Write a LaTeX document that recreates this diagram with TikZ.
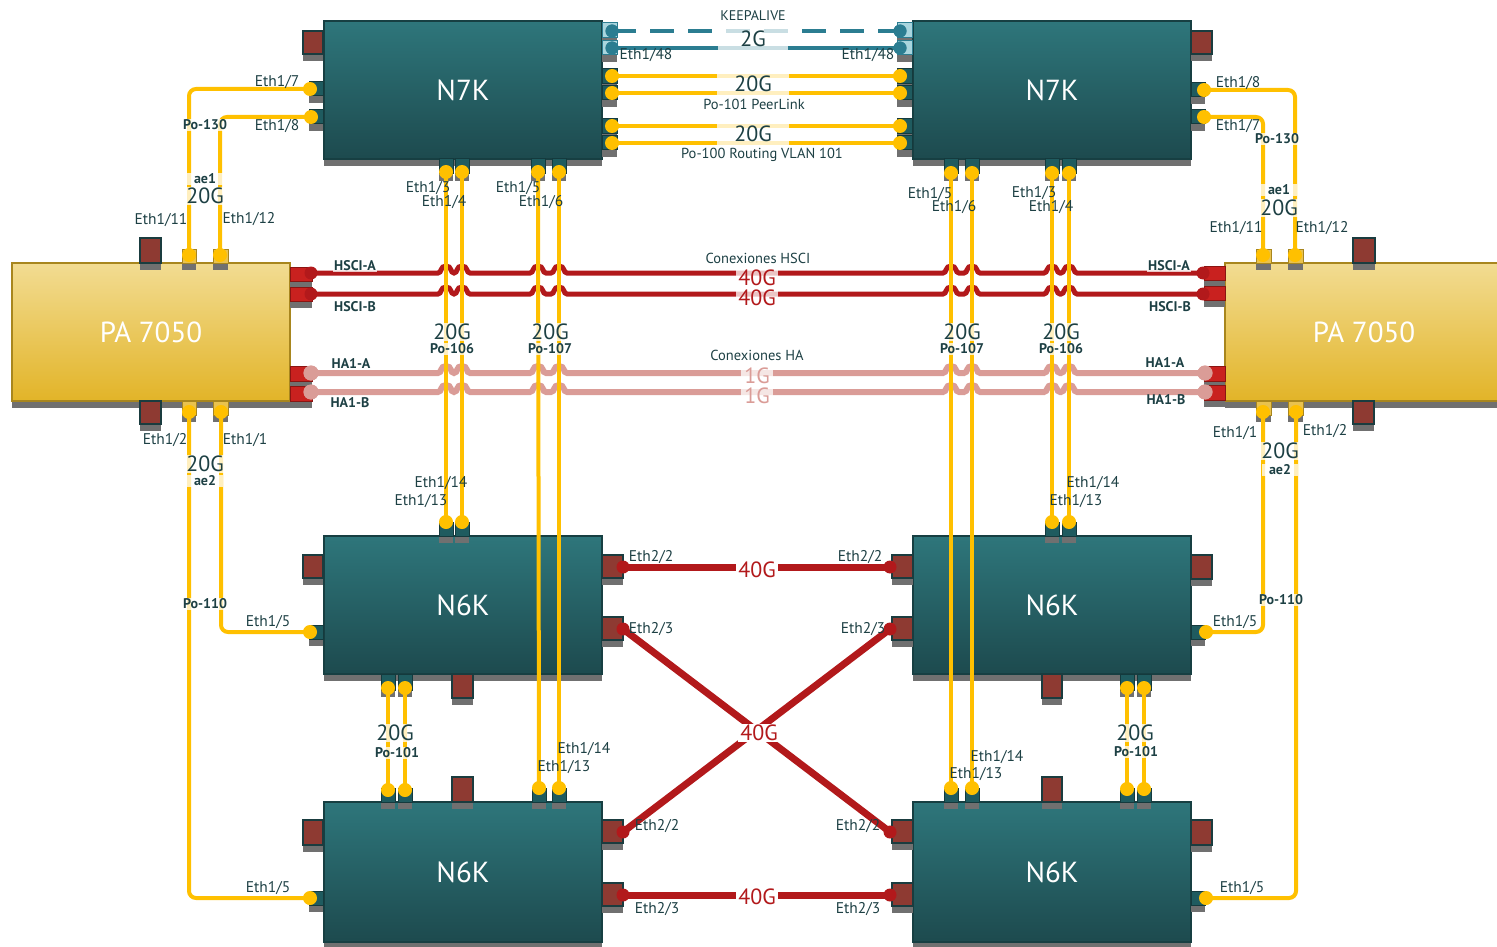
\documentclass[tikz,border=0pt]{standalone}
\usepackage{fontspec}
\setmainfont{PT Sans}
\definecolor{yel}{HTML}{FFC000}
\definecolor{hred}{HTML}{B2191B}
\definecolor{hpink}{HTML}{DA9C97}
\definecolor{kteal}{HTML}{2B7D91}
\definecolor{txtc}{HTML}{1D4044}
\definecolor{shc}{HTML}{707070}
\newcommand\myport[5]{\fill[shc] (#2,#5) rectangle (#4,#5+7);\draw[#1] (#2,#3) rectangle (#4,#5);}
\newcommand\hopline[3]{% style, start, end ; y given as #4? (unused)
}
\begin{document}
\begin{tikzpicture}[x=1pt,y=-1pt,
  dev/.style={rectangle, draw=#1!50!black, line width=1.5pt, text=white, font=\fontsize{29}{31}\selectfont},
  nx/.style={dev=teal, draw={rgb,255:red,23;green,63;blue,66}, top color={rgb,255:red,46;green,118;blue,123}, bottom color={rgb,255:red,29;green,74;blue,78}, minimum width=278pt},
  pa/.style={dev=yellow, draw={rgb,255:red,168;green,134;blue,30}, top color={rgb,255:red,242;green,220;blue,146}, bottom color={rgb,255:red,226;green,180;blue,40}, minimum width=278pt, minimum height=138pt},
  tport/.style={fill={rgb,255:red,31;green,91;blue,95}, draw={rgb,255:red,20;green,58;blue,61}, line width=1pt},
  rport/.style={fill={rgb,255:red,142;green,58;blue,50}, draw={rgb,255:red,26;green,60;blue,63}, line width=1.2pt},
  bport/.style={fill={rgb,255:red,169;green,213;blue,222}, draw=kteal, line width=1pt},
  yport/.style={fill={rgb,255:red,233;green,194;blue,78}, draw={rgb,255:red,168;green,134;blue,30}, line width=1pt},
  hport/.style={fill={rgb,255:red,201;green,33;blue,31}, draw={rgb,255:red,138;green,21;blue,18}, line width=1pt},
  yd/.style={circle, fill=yel, inner sep=0pt, minimum size=13pt},
  td/.style={circle, fill=kteal, inner sep=0pt, minimum size=13pt},
  rd/.style={circle, fill=hred, inner sep=0pt, minimum size=13pt},
  pd/.style={circle, fill=hpink, inner sep=0pt, minimum size=15pt},
  ylink/.style={draw=yel, line width=4pt, rounded corners=7pt},
  klink/.style={draw=kteal, line width=4pt},
  hsci/.style={draw=hred, line width=5pt},
  halink/.style={draw=hpink, line width=6pt},
  rlink/.style={draw=hred, line width=7pt},
  lbl/.style={font=\fontsize{15.5}{17}\selectfont, text=txtc, inner sep=1pt},
  bl/.style={font=\bfseries\fontsize{14}{16}\selectfont, text=txtc, inner sep=1pt},
  big/.style={font=\fontsize{22}{24}\selectfont, text=txtc, inner sep=1pt},
  wbg/.style={fill=white, fill opacity=0.75, text opacity=1}
]
\useasboundingbox (0,0) rectangle (1497,947);
% ---------- device shadows and boxes
\foreach \a/\b/\c in {324/602/159, 913/1191/159, 12/290/401, 1225/1503/401, 324/602/674, 913/1191/674, 324/602/942, 913/1191/942}
  \fill[shc] (\a,\c) rectangle (\b,\c+7);
\node[nx, minimum height=138pt] (n7a) at (463,90) {N7K};
\node[nx, minimum height=138pt] (n7b) at (1052,90) {N7K};
\node[pa] (paL) at (151,332) {PA 7050};
\node[pa] (paR) at (1364,332) {PA 7050};
\node[nx, minimum height=138pt] (n6a) at (463,605) {N6K};
\node[nx, minimum height=138pt] (n6b) at (1052,605) {N6K};
\node[nx, minimum height=140pt] (n6c) at (463,872) {N6K};
\node[nx, minimum height=140pt] (n6d) at (1052,872) {N6K};
% ---------- ports: N7K left
\myport{rport}{303}{31}{323}{54}
\myport{tport}{309}{82}{323}{96}
\myport{tport}{309}{110}{323}{124}
\myport{bport}{602}{23}{617}{38}
\myport{bport}{602}{41}{617}{55}
\myport{tport}{602}{69}{617}{84}
\myport{tport}{602}{86}{617}{100}
\myport{tport}{602}{119}{617}{134}
\myport{tport}{602}{136}{617}{150}
\foreach \a in {439,455,531,552} {\myport{tport}{\a}{159}{\a+14}{174}}
% N7K right
\myport{bport}{897}{23}{912}{38}
\myport{bport}{897}{41}{912}{55}
\myport{tport}{897}{69}{912}{84}
\myport{tport}{897}{86}{912}{100}
\myport{tport}{897}{119}{912}{134}
\myport{tport}{897}{136}{912}{150}
\myport{rport}{1191}{31}{1212}{54}
\myport{tport}{1191}{83}{1205}{97}
\myport{tport}{1191}{110}{1205}{124}
\foreach \a in {944,965,1045,1062} {\myport{tport}{\a}{159}{\a+14}{174}}
% PA left
\myport{rport}{140}{238}{161}{263}
\myport{yport}{182}{249}{196}{263}
\myport{yport}{213}{249}{228}{263}
\myport{rport}{140}{401}{161}{424}
\myport{yport}{182}{401}{196}{415}
\myport{yport}{213}{401}{228}{415}
\myport{hport}{290}{267}{312}{281}
\myport{hport}{290}{287}{312}{301}
\myport{hport}{290}{366}{312}{381}
\myport{hport}{290}{386}{312}{401}
% PA right
\myport{rport}{1353}{238}{1375}{263}
\myport{yport}{1256}{249}{1271}{263}
\myport{yport}{1288}{249}{1303}{263}
\myport{rport}{1353}{401}{1374}{424}
\myport{yport}{1256}{401}{1271}{415}
\myport{yport}{1288}{401}{1303}{415}
\myport{hport}{1204}{266}{1225}{280}
\myport{hport}{1204}{286}{1225}{300}
\myport{hport}{1204}{366}{1225}{381}
\myport{hport}{1204}{385}{1225}{400}
% N6K upper left
\myport{rport}{303}{555}{323}{578}
\myport{tport}{309}{625}{323}{639}
\myport{rport}{602}{555}{623}{578}
\myport{rport}{602}{617}{623}{640}
\myport{tport}{439}{522}{453}{536}
\myport{tport}{455}{522}{469}{536}
\myport{tport}{381}{674}{395}{690}
\myport{tport}{398}{674}{412}{690}
\myport{rport}{452}{674}{473}{698}
% N6K lower left
\myport{rport}{303}{820}{323}{845}
\myport{tport}{309}{891}{323}{905}
\myport{rport}{602}{820}{623}{843}
\myport{rport}{602}{883}{623}{906}
\myport{tport}{381}{788}{395}{802}
\myport{tport}{398}{788}{412}{802}
\myport{tport}{532}{788}{546}{802}
\myport{tport}{552}{788}{566}{802}
\myport{rport}{452}{777}{473}{802}
% N6K upper right
\myport{rport}{892}{555}{913}{578}
\myport{rport}{892}{617}{913}{640}
\myport{rport}{1191}{555}{1212}{579}
\myport{tport}{1191}{625}{1205}{639}
\myport{tport}{1045}{522}{1059}{536}
\myport{tport}{1062}{522}{1076}{536}
\myport{tport}{1120}{674}{1134}{690}
\myport{tport}{1137}{674}{1151}{690}
\myport{rport}{1042}{674}{1062}{698}
% N6K lower right
\myport{rport}{892}{820}{913}{843}
\myport{rport}{892}{883}{913}{906}
\myport{rport}{1191}{820}{1212}{845}
\myport{tport}{1191}{891}{1205}{905}
\myport{tport}{944}{788}{958}{802}
\myport{tport}{965}{788}{979}{802}
\myport{tport}{1120}{788}{1134}{802}
\myport{tport}{1137}{788}{1151}{802}
\myport{rport}{1042}{777}{1062}{802}
% ---------- dot nodes (endpoints)
\foreach \n/\x/\y in {a7/310/89, a8/311/117, pl1/612/76, pl2/612/93, rt1/612/126, rt2/612/143,
  a3/446/172, a4/462/172, a5/538/172, a6/559/172,
  pr1/900/76, pr2/900/93, rr1/900/126, rr2/900/143, b8/1204/90, b7/1204/117,
  b5/951/173, b6/972/173, b3/1052/173, b4/1069/173,
  p11/189/255, p12/220/255, p2/189/412, p1/221/412,
  q11/1263/255, q12/1295/255, q1/1263/412, q2/1296/412,
  c13/446/522, c14/462/522, c15/310/632, cp1/388/688, cp2/405/688,
  e13/539/788, e14/559/788, e15/310/898, ep1/388/790, ep2/405/790,
  f13/1052/522, f14/1069/522, f15/1206/632, fp1/1127/688, fp2/1144/688,
  g13/951/788, g14/972/788, g15/1206/898, gp1/1127/789, gp2/1144/789}
  {\node[yd] (\n) at (\x,\y) {};}
\foreach \n/\x/\y in {ka1/612/31, ka2/612/48, kb1/900/31, kb2/900/48}
  {\node[td] (\n) at (\x,\y) {};}
\foreach \n/\x/\y in {hsA/311/273, hsB/311/294, hsA2/1203/273, hsB2/1203/294,
  c22/623/567, c23/623/629, e22/623/832, e23/623/895, f22/890/567, f23/890/629, g22/890/832, g23/890/895}
  {\node[rd] (\n) at (\x,\y) {};}
\foreach \n/\x/\y in {haA/311/373, haB/311/392, haA2/1205/373, haB2/1205/392}
  {\node[pd] (\n) at (\x,\y) {};}
% ---------- HSCI / HA lines with hops
\draw[hsci] (hsA.center) \foreach \x in {446,462,538,559,951,972,1052,1069}{ -- (\x-8,273) .. controls (\x-4,273) and (\x-6,266) .. (\x,266) .. controls (\x+6,266) and (\x+4,273) .. (\x+8,273)} -- (hsA2.center);
\draw[hsci] (hsB.center) \foreach \x in {446,462,538,559,951,972,1052,1069}{ -- (\x-8,294) .. controls (\x-4,294) and (\x-6,287) .. (\x,287) .. controls (\x+6,287) and (\x+4,294) .. (\x+8,294)} -- (hsB2.center);
\draw[halink] (haA.center) \foreach \x in {446,462,538,559,951,972,1052,1069}{ -- (\x-8,373) .. controls (\x-4,373) and (\x-6,366) .. (\x,366) .. controls (\x+6,366) and (\x+4,373) .. (\x+8,373)} -- (haA2.center);
\draw[halink] (haB.center) \foreach \x in {446,462,538,559,951,972,1052,1069}{ -- (\x-8,392) .. controls (\x-4,392) and (\x-6,385) .. (\x,385) .. controls (\x+6,385) and (\x+4,392) .. (\x+8,392)} -- (haB2.center);
% ---------- 40G N6K links
\draw[rlink] (c22.center) -- (f22.center);
\draw[rlink] (c23.center) -- (g22.center);
\draw[rlink] (f23.center) -- (e22.center);
\draw[rlink] (e23.center) -- (g23.center);
% ---------- keepalive
\draw[klink, dash pattern=on 24pt off 14pt] (ka1.center) -- (kb1.center);
\draw[klink] (ka2.center) -- (kb2.center);
% ---------- yellow links
\draw[ylink] (pl1.center) -- (pr1.center);
\draw[ylink] (pl2.center) -- (pr2.center);
\draw[ylink] (rt1.center) -- (rr1.center);
\draw[ylink] (rt2.center) -- (rr2.center);
\draw[ylink] (a7.center) -| (p11.center);
\draw[ylink] (a8.center) -| (p12.center);
\draw[ylink] (b8.center) -| (q12.center);
\draw[ylink] (b7.center) -| (q11.center);
\draw[ylink] (p2.center) |- (e15.center);
\draw[ylink] (p1.center) |- (c15.center);
\draw[ylink] (q1.center) |- (f15.center);
\draw[ylink] (q2.center) |- (g15.center);
\draw[ylink] (a3.center) -- (c13.center);
\draw[ylink] (a4.center) -- (c14.center);
\draw[ylink] (a5.center) -- (e13.center);
\draw[ylink] (a6.center) -- (e14.center);
\draw[ylink] (b5.center) -- (g13.center);
\draw[ylink] (b6.center) -- (g14.center);
\draw[ylink] (b3.center) -- (f13.center);
\draw[ylink] (b4.center) -- (f14.center);
\draw[ylink] (cp1.center) -- (ep1.center);
\draw[ylink] (cp2.center) -- (ep2.center);
\draw[ylink] (fp1.center) -- (gp1.center);
\draw[ylink] (fp2.center) -- (gp2.center);
% redraw dots on top
\foreach \n in {a7,a8,pl1,pl2,rt1,rt2,a3,a4,a5,a6,pr1,pr2,rr1,rr2,b8,b7,b5,b6,b3,b4,p11,p12,p2,p1,q11,q12,q1,q2,c13,c14,c15,cp1,cp2,e13,e14,e15,ep1,ep2,f13,f14,f15,fp1,fp2,g13,g14,g15,gp1,gp2}
  {\fill[yel] (\n) circle (7pt);}
\foreach \n in {ka1,ka2,kb1,kb2} {\fill[kteal] (\n) circle (6.5pt);}
\foreach \n in {hsA,hsB,hsA2,hsB2,c22,c23,e22,e23,f22,f23,g22,g23} {\fill[hred] (\n) circle (6pt);}
\foreach \n in {haA,haB,haA2,haB2} {\fill[hpink] (\n) circle (7.5pt);}
% ---------- labels top
\node[lbl, font=\fontsize{14}{16}\selectfont] (t1) at (753,16) {KEEPALIVE};
\node[big, wbg, minimum width=70pt, minimum height=24pt] (t2) at (753,39) {2G};
\node[lbl] (t3) at (646,55) {Eth1/48};
\node[lbl] (t4) at (868,55) {Eth1/48};
\node[big, wbg, minimum width=72pt, minimum height=24pt] (t5) at (753,84) {20G};
\node[lbl, font=\fontsize{14.5}{16}\selectfont] (t6) at (754,104) {Po-101 PeerLink};
\node[big, wbg, minimum width=72pt, minimum height=24pt] (t7) at (753,134) {20G};
\node[lbl, font=\fontsize{14.5}{16}\selectfont] (t8) at (762,155) {Po-100 Routing VLAN 101};
% left side
\node[lbl] (l1) at (277,82) {Eth1/7};
\node[lbl] (l2) at (277,126) {Eth1/8};
\node[bl, wbg, minimum width=38pt] (l3) at (205,125) {Po-130};
\node[bl, wbg, minimum width=36pt] (l4) at (205,179) {ae1};
\node[big, wbg, minimum width=36pt] (l5) at (205,196) {20G};
\node[lbl] (l6) at (161,220) {Eth1/11};
\node[lbl] (l7) at (249,219) {Eth1/12};
\node[lbl] (l8) at (165,440) {Eth1/2};
\node[lbl] (l9) at (245,440) {Eth1/1};
\node[big, wbg, minimum width=36pt] (l10) at (205,464) {20G};
\node[bl, wbg, minimum width=36pt] (l11) at (205,481) {ae2};
\node[bl, wbg, minimum width=38pt] (l12) at (205,604) {Po-110};
\node[lbl] (l13) at (268,622) {Eth1/5};
\node[lbl] (l14) at (268,888) {Eth1/5};
% right side
\node[lbl] (r1) at (1238,83) {Eth1/8};
\node[lbl] (r2) at (1238,126) {Eth1/7};
\node[bl, wbg, minimum width=38pt] (r3) at (1277,139) {Po-130};
\node[bl, wbg, minimum width=36pt] (r4) at (1279,190) {ae1};
\node[big, wbg, minimum width=36pt] (r5) at (1279,208) {20G};
\node[lbl] (r6) at (1236,228) {Eth1/11};
\node[lbl] (r7) at (1322,228) {Eth1/12};
\node[lbl] (r8) at (1235,433) {Eth1/1};
\node[lbl] (r9) at (1325,431) {Eth1/2};
\node[big, wbg, minimum width=36pt] (r10) at (1280,451) {20G};
\node[bl, wbg, minimum width=36pt] (r11) at (1280,470) {ae2};
\node[bl, wbg, minimum width=38pt] (r12) at (1281,600) {Po-110};
\node[lbl] (r13) at (1235,622) {Eth1/5};
\node[lbl] (r14) at (1242,888) {Eth1/5};
% HSCI / HA labels
\node[bl, wbg] (h1) at (355,266) {HSCI-A};
\node[bl] (h2) at (355,307) {HSCI-B};
\node[bl] (h3) at (351,364) {HA1-A};
\node[bl] (h4) at (350,403) {HA1-B};
\node[bl, wbg] (h5) at (1169,266) {HSCI-A};
\node[bl] (h6) at (1170,307) {HSCI-B};
\node[bl] (h7) at (1165,363) {HA1-A};
\node[bl] (h8) at (1166,400) {HA1-B};
\node[lbl, font=\fontsize{14.5}{16}\selectfont] (h9) at (758,258) {Conexiones HSCI};
\node[big, wbg, text=hred, inner xsep=2pt] (h10) at (757,278) {40G};
\node[big, wbg, text=hred, inner xsep=2pt] (h11) at (757,298) {40G};
\node[lbl, font=\fontsize{14.5}{16}\selectfont] (h12) at (757,355) {Conexiones HA};
\node[big, wbg, text=hpink, inner xsep=3pt] (h13) at (757,376) {1G};
\node[big, wbg, text=hpink, inner xsep=3pt] (h14) at (757,396) {1G};
% N7K bottom labels
\node[lbl] (m1) at (428,188) {Eth1/3};
\node[lbl] (m2) at (444,202) {Eth1/4};
\node[lbl] (m3) at (518,188) {Eth1/5};
\node[lbl] (m4) at (541,202) {Eth1/6};
\node[lbl] (m5) at (930,194) {Eth1/5};
\node[lbl] (m6) at (954,207) {Eth1/6};
\node[lbl] (m7) at (1034,193) {Eth1/3};
\node[lbl] (m8) at (1051,207) {Eth1/4};
% port-channel labels
\node[big, wbg, minimum width=36pt] (v1) at (452,332) {20G};
\node[bl, wbg] (v2) at (452,349) {Po-106};
\node[big, wbg, minimum width=38pt] (v3) at (550,332) {20G};
\node[bl, wbg] (v4) at (550,349) {Po-107};
\node[big, wbg, minimum width=38pt] (v5) at (962,332) {20G};
\node[bl, wbg] (v6) at (962,349) {Po-107};
\node[big, wbg, minimum width=36pt] (v7) at (1061,332) {20G};
\node[bl, wbg] (v8) at (1061,349) {Po-106};
% N6K labels
\node[lbl] (s1) at (441,483) {Eth1/14};
\node[lbl] (s2) at (421,501) {Eth1/13};
\node[lbl] (s3) at (1093,483) {Eth1/14};
\node[lbl] (s4) at (1076,501) {Eth1/13};
\node[lbl] (s5) at (584,749) {Eth1/14};
\node[lbl] (s6) at (564,767) {Eth1/13};
\node[lbl] (s7) at (997,757) {Eth1/14};
\node[lbl] (s8) at (976,774) {Eth1/13};
\node[big, wbg, minimum width=36pt] (s9) at (395,733) {20G};
\node[bl, wbg] (s10) at (397,753) {Po-101};
\node[big, wbg, minimum width=36pt] (s11) at (1135,733) {20G};
\node[bl, wbg] (s12) at (1136,752) {Po-101};
\node[lbl] (u1) at (651,557) {Eth2/2};
\node[lbl] (u2) at (651,629) {Eth2/3};
\node[lbl] (u3) at (860,557) {Eth2/2};
\node[lbl] (u4) at (863,629) {Eth2/3};
\node[lbl] (u5) at (657,826) {Eth2/2};
\node[lbl] (u6) at (657,909) {Eth2/3};
\node[lbl] (u7) at (858,826) {Eth2/2};
\node[lbl] (u8) at (858,909) {Eth2/3};
\node[big, fill=white, text=hred, inner xsep=2pt] (u9) at (757,570) {40G};
\node[big, fill=white, text=hred, inner xsep=2pt] (u10) at (759,733) {40G};
\node[big, fill=white, text=hred, inner xsep=2pt] (u11) at (757,897) {40G};
\end{tikzpicture}
\end{document}
